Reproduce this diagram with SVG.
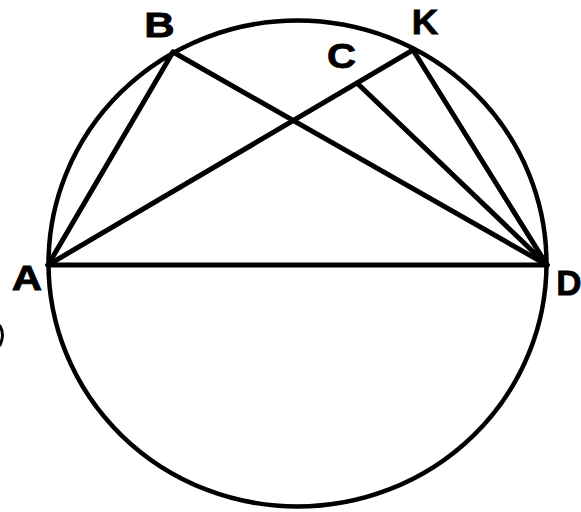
<svg xmlns="http://www.w3.org/2000/svg" width="581" height="512" viewBox="0 0 581 512">
<style>
.ln{stroke:#000;stroke-width:5;fill:none;stroke-linecap:round}
.lb{font-family:"Liberation Sans",Arial,sans-serif;font-weight:bold;font-size:35px;fill:#000;text-anchor:middle;stroke:#000;stroke-width:0.8}
</style>
<rect width="581" height="512" fill="#fff"/>
<g id="circle"><ellipse class="ln" cx="297.5" cy="263.5" rx="249" ry="243" style="stroke-width:4.5"/></g>
<g id="connectors">
<line class="ln" x1="48" y1="265" x2="547" y2="265"/>
<line class="ln" x1="48" y1="265" x2="173" y2="52"/>
<line class="ln" x1="173" y1="52" x2="547" y2="265"/>
<line class="ln" x1="48" y1="265" x2="413" y2="50"/>
<line class="ln" x1="413" y1="50" x2="547" y2="265"/>
<line class="ln" x1="358" y1="84" x2="547" y2="265"/>
</g>
<g id="A"><text class="lb" transform="translate(27,290) scale(1.2,1)">A</text></g>
<g id="B"><text class="lb" transform="translate(159.5,37) scale(1.2,1)">B</text></g>
<g id="C"><text class="lb" transform="translate(341.5,68) scale(1.15,1)">C</text></g>
<g id="K"><text class="lb" transform="translate(425,34) scale(1.05,1)">K</text></g>
<g id="D"><text class="lb" transform="translate(569,295)">D</text></g>
<path class="ln" d="M0,326 Q5,335 0,345" style="stroke-width:3"/>
</svg>
